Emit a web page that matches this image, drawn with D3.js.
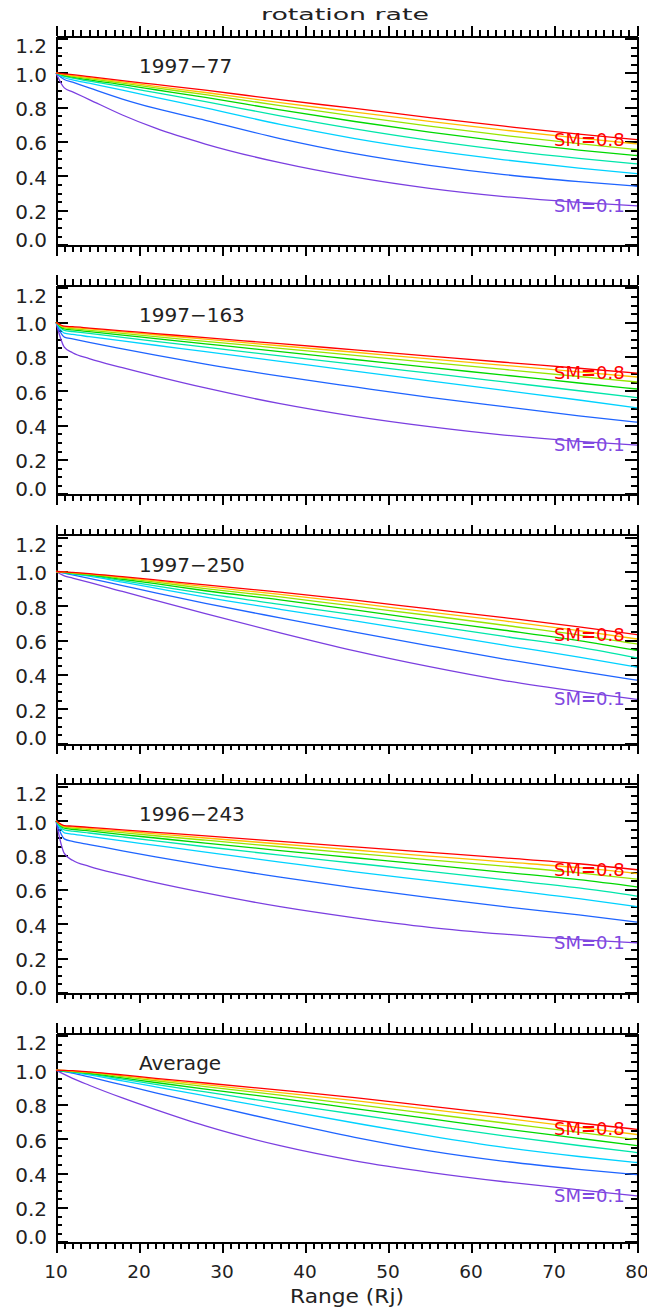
<!DOCTYPE html>
<html>
<head>
<meta charset="utf-8">
<script src="https://cdn.jsdelivr.net/npm/d3@7"></script>
<style>
  body { margin: 0; background: #fff; }
  text { font-family: 'DejaVu Sans ExtraLight', 'DejaVu Sans', sans-serif; fill: #222; }
  .axis path, .axis line { stroke: #000; stroke-width: 2; shape-rendering: crispEdges; }
</style>
</head>
<body>
<div id="chart"></div>
<script>
'use strict';

var rangeRj = [10, 11, 12, 14, 18, 22, 28, 37, 46, 55, 64, 73, 80];
var smValues = [0.1, 0.2, 0.3, 0.4, 0.5, 0.6, 0.7, 0.8];
var smColors = ['#7b3fe0', '#1e64ff', '#00d2ff', '#00e6aa', '#00d800', '#96e600', '#ffbe00', '#ff0000'];
var panelNames = ['1997\u221277', '1997\u2212163', '1997\u2212250', '1996\u2212243', 'Average'];
var yTickValues = [0, 0.2, 0.4, 0.6, 0.8, 1.0, 1.2];
var xTickValues = [10, 20, 30, 40, 50, 60, 70, 80];

// one row per SM value (0.1 .. 0.8)
var rate1997_77 = [
  [1.0, 0.913, 0.89, 0.845, 0.755, 0.678, 0.586, 0.477, 0.393, 0.328, 0.28, 0.246, 0.226],
  [1.0, 0.962, 0.946, 0.913, 0.848, 0.793, 0.724, 0.618, 0.53, 0.462, 0.408, 0.367, 0.34],
  [1.0, 0.972, 0.96, 0.94, 0.9, 0.858, 0.797, 0.7, 0.618, 0.55, 0.494, 0.446, 0.414],
  [1.0, 0.98, 0.97, 0.952, 0.92, 0.885, 0.833, 0.75, 0.674, 0.607, 0.55, 0.502, 0.47],
  [1.0, 0.985, 0.976, 0.96, 0.932, 0.902, 0.857, 0.785, 0.717, 0.655, 0.6, 0.551, 0.519],
  [1.0, 0.988, 0.98, 0.967, 0.94, 0.913, 0.873, 0.81, 0.748, 0.69, 0.636, 0.588, 0.554],
  [1.0, 0.99, 0.984, 0.972, 0.948, 0.922, 0.886, 0.827, 0.772, 0.718, 0.667, 0.62, 0.587],
  [1.0, 0.995, 0.99, 0.978, 0.955, 0.933, 0.9, 0.844, 0.793, 0.74, 0.69, 0.643, 0.612]
];
var rate1997_163 = [
  [1.0, 0.855, 0.822, 0.788, 0.735, 0.686, 0.617, 0.526, 0.452, 0.392, 0.343, 0.306, 0.284],
  [1.0, 0.913, 0.903, 0.883, 0.845, 0.808, 0.756, 0.686, 0.623, 0.562, 0.508, 0.455, 0.418],
  [1.0, 0.937, 0.929, 0.916, 0.891, 0.866, 0.829, 0.772, 0.715, 0.659, 0.603, 0.547, 0.501],
  [1.0, 0.952, 0.946, 0.935, 0.912, 0.889, 0.855, 0.804, 0.754, 0.703, 0.652, 0.601, 0.561],
  [1.0, 0.961, 0.955, 0.945, 0.925, 0.904, 0.874, 0.829, 0.783, 0.737, 0.692, 0.646, 0.611],
  [1.0, 0.967, 0.962, 0.953, 0.935, 0.916, 0.889, 0.848, 0.807, 0.766, 0.725, 0.684, 0.652],
  [1.0, 0.973, 0.969, 0.961, 0.944, 0.927, 0.901, 0.863, 0.825, 0.787, 0.749, 0.711, 0.681],
  [1.0, 0.977, 0.974, 0.966, 0.95, 0.934, 0.91, 0.875, 0.839, 0.803, 0.767, 0.732, 0.704]
];
var rate1997_250 = [
  [1.0, 0.975, 0.962, 0.937, 0.884, 0.832, 0.755, 0.643, 0.538, 0.446, 0.365, 0.3, 0.255],
  [1.0, 0.99, 0.98, 0.96, 0.918, 0.876, 0.815, 0.73, 0.647, 0.567, 0.49, 0.42, 0.367],
  [1.0, 0.993, 0.985, 0.973, 0.938, 0.903, 0.851, 0.78, 0.713, 0.643, 0.571, 0.502, 0.443],
  [1.0, 0.994, 0.988, 0.977, 0.947, 0.917, 0.871, 0.809, 0.748, 0.686, 0.622, 0.56, 0.497],
  [1.0, 0.995, 0.99, 0.98, 0.955, 0.929, 0.888, 0.835, 0.777, 0.716, 0.658, 0.598, 0.541],
  [1.0, 0.996, 0.991, 0.983, 0.961, 0.938, 0.901, 0.852, 0.798, 0.744, 0.687, 0.63, 0.578],
  [1.0, 0.997, 0.993, 0.986, 0.966, 0.945, 0.912, 0.867, 0.817, 0.763, 0.712, 0.656, 0.607],
  [1.0, 0.998, 0.995, 0.988, 0.97, 0.951, 0.922, 0.88, 0.834, 0.782, 0.731, 0.678, 0.632]
];
var rate1996_243 = [
  [1.0, 0.81, 0.77, 0.735, 0.685, 0.64, 0.58, 0.5, 0.435, 0.38, 0.34, 0.308, 0.29],
  [1.0, 0.895, 0.88, 0.862, 0.825, 0.79, 0.74, 0.672, 0.61, 0.553, 0.5, 0.452, 0.41],
  [1.0, 0.93, 0.922, 0.909, 0.883, 0.857, 0.818, 0.76, 0.703, 0.652, 0.6, 0.547, 0.5],
  [1.0, 0.947, 0.94, 0.929, 0.906, 0.883, 0.849, 0.8, 0.753, 0.706, 0.658, 0.609, 0.562],
  [1.0, 0.957, 0.951, 0.941, 0.92, 0.9, 0.87, 0.827, 0.785, 0.743, 0.70, 0.657, 0.615],
  [1.0, 0.963, 0.958, 0.949, 0.931, 0.913, 0.887, 0.849, 0.811, 0.773, 0.736, 0.697, 0.66],
  [1.0, 0.968, 0.964, 0.956, 0.94, 0.924, 0.9, 0.865, 0.83, 0.795, 0.761, 0.727, 0.693],
  [1.0, 0.972, 0.969, 0.962, 0.947, 0.933, 0.912, 0.88, 0.848, 0.816, 0.784, 0.75, 0.715]
];
var rateAverage = [
  [1.0, 0.975, 0.952, 0.912, 0.838, 0.77, 0.675, 0.56, 0.472, 0.405, 0.35, 0.303, 0.268],
  [1.0, 0.992, 0.982, 0.96, 0.914, 0.868, 0.8, 0.701, 0.609, 0.53, 0.469, 0.422, 0.391],
  [1.0, 0.994, 0.987, 0.972, 0.938, 0.903, 0.85, 0.77, 0.692, 0.617, 0.55, 0.497, 0.462],
  [1.0, 0.995, 0.99, 0.978, 0.948, 0.917, 0.873, 0.806, 0.743, 0.679, 0.617, 0.561, 0.52],
  [1.0, 0.996, 0.991, 0.981, 0.955, 0.928, 0.889, 0.835, 0.776, 0.717, 0.658, 0.603, 0.56],
  [1.0, 0.997, 0.993, 0.985, 0.962, 0.938, 0.904, 0.854, 0.8, 0.746, 0.692, 0.638, 0.595],
  [1.0, 0.998, 0.995, 0.988, 0.968, 0.946, 0.915, 0.869, 0.822, 0.772, 0.72, 0.667, 0.625],
  [1.0, 0.999, 0.997, 0.99, 0.972, 0.952, 0.925, 0.883, 0.84, 0.79, 0.742, 0.692, 0.655]
];
var panelData = [rate1997_77, rate1997_163, rate1997_250, rate1996_243, rateAverage];

var width = 647, height = 1316;
var margin = {left: 56, right: 10};
var panelTop = 36, panelStep = 249.3, panelH = 209.5;

var svg = d3.select('#chart').append('svg')
  .attr('width', width)
  .attr('height', height);

svg.append('rect').attr('width', width).attr('height', height).attr('fill', '#fff');

var x = d3.scaleLinear().domain([10, 80]).range([margin.left, width - margin.right]);
var minorX = d3.range(10, 81, 1);
var minorY = d3.range(0, 1.21, 0.05);
var fmt = d3.format('.1f');

svg.append('text')
  .attr('x', 345).attr('y', 20)
  .attr('text-anchor', 'middle')
  .attr('font-size', 16)
  .attr('textLength', 168).attr('lengthAdjust', 'spacingAndGlyphs')
  .text('rotation rate');

panelData.forEach(function(series, p) {
  var top = panelTop + p * panelStep;
  var bottom = top + panelH;
  var y = d3.scaleLinear().domain([-0.005, 1.215]).range([bottom, top]);
  var g = svg.append('g');

  // x ticks point outward, y ticks point inward
  g.append('g').attr('class', 'axis').attr('transform', 'translate(0,' + top + ')')
    .call(d3.axisTop(x).tickValues(minorX).tickSize(6).tickSizeOuter(0).tickFormat(''));
  g.append('g').attr('class', 'axis').attr('transform', 'translate(0,' + top + ')')
    .call(d3.axisTop(x).tickValues(xTickValues).tickSize(10).tickSizeOuter(0).tickFormat(''));
  g.append('g').attr('class', 'axis').attr('transform', 'translate(0,' + bottom + ')')
    .call(d3.axisBottom(x).tickValues(minorX).tickSize(6).tickSizeOuter(0).tickFormat(''));
  g.append('g').attr('class', 'axis').attr('transform', 'translate(0,' + bottom + ')')
    .call(d3.axisBottom(x).tickValues(xTickValues).tickSize(10).tickSizeOuter(0).tickFormat(''));

  g.append('g').attr('class', 'axis').attr('transform', 'translate(' + x(10) + ',0)')
    .call(d3.axisLeft(y).tickValues(minorY).tickSize(-6).tickSizeOuter(0).tickFormat(''));
  g.append('g').attr('class', 'axis').attr('transform', 'translate(' + x(10) + ',0)')
    .call(d3.axisLeft(y).tickValues(yTickValues).tickSize(-12).tickSizeOuter(0).tickFormat(''));
  g.append('g').attr('class', 'axis').attr('transform', 'translate(' + x(80) + ',0)')
    .call(d3.axisRight(y).tickValues(minorY).tickSize(-6).tickSizeOuter(0).tickFormat(''));
  g.append('g').attr('class', 'axis').attr('transform', 'translate(' + x(80) + ',0)')
    .call(d3.axisRight(y).tickValues(yTickValues).tickSize(-12).tickSizeOuter(0).tickFormat(''));

  g.selectAll('.ylab')
    .data(yTickValues)
    .enter().append('text')
    .attr('class', 'ylab')
    .attr('x', 47)
    .attr('y', function(d) { return Math.max(top + 10, Math.min(bottom - 6, y(d) + 1.5)); })
    .attr('dy', '0.36em')
    .attr('text-anchor', 'end')
    .attr('font-size', 20)
    .text(function(d) { return fmt(d); });

  var line = d3.line()
    .x(function(d, i) { return x(rangeRj[i]); })
    .y(function(d) { return y(d); })
    .curve(d3.curveMonotoneX);

  g.selectAll('.curve')
    .data(series)
    .enter().append('path')
    .attr('class', 'curve')
    .attr('d', line)
    .attr('fill', 'none')
    .attr('stroke', function(d, i) { return smColors[i]; })
    .attr('stroke-width', 1.3);

  g.append('text')
    .attr('x', x(20)).attr('y', y(1.0))
    .attr('font-size', 20)
    .text(panelNames[p]);

  [0, 7].forEach(function(k) {
    var last = series[k][series[k].length - 1];
    var t = g.append('text')
      .attr('x', x(70)).attr('y', y(last) + 6)
      .attr('font-size', 18)
      .style('fill', k === 0 ? '#8048e0' : smColors[k]);
    t.append('tspan').text('SM');
    t.append('tspan').attr('font-weight', 'bold').text('=');
    t.append('tspan').text(fmt(smValues[k]));
  });

  if (p === panelData.length - 1) {
    g.selectAll('.xlab')
      .data(xTickValues)
      .enter().append('text')
      .attr('class', 'xlab')
      .attr('x', function(d) { return x(d); })
      .attr('y', bottom + 29)
      .attr('dy', '0.36em')
      .attr('text-anchor', 'middle')
      .attr('font-size', 18.5)
      .text(function(d) { return d; });
    g.append('text')
      .attr('x', 347).attr('y', bottom + 60)
      .attr('text-anchor', 'middle')
      .attr('font-size', 19)
      .attr('textLength', 114).attr('lengthAdjust', 'spacingAndGlyphs')
      .text('Range (Rj)');
  }
});
</script>
</body>
</html>
